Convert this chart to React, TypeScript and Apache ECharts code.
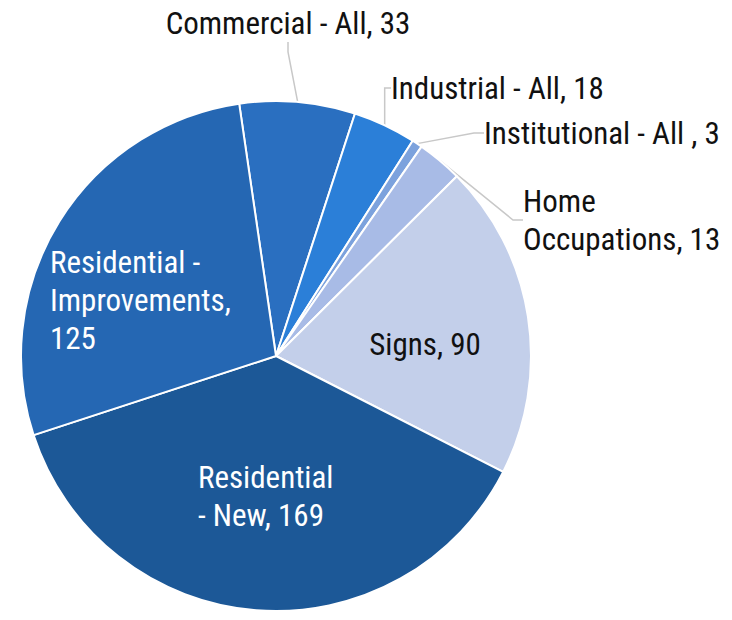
import React, { useEffect, useRef } from "react";
import * as echarts from "echarts";

const categories = [
  "Commercial - All",
  "Industrial - All",
  "Institutional - All",
  "Home Occupations",
  "Signs",
  "Residential - New",
  "Residential - Improvements",
];
const values = [33, 18, 3, 13, 90, 169, 125];
const labelTexts = [
  "Commercial - All, 33",
  "Industrial - All, 18",
  "Institutional - All , 3",
  "Home\nOccupations, 13",
  "Signs, 90",
  "Residential\n- New, 169",
  "Residential -\nImprovements,\n125",
];
const colors = ["#2a6fc0", "#2b7fd8", "#7ca2dd", "#a8bbe6", "#c3cfea", "#1c5897", "#2567b3"];
const insideFlags = [false, false, false, false, true, true, true];
const labelColors = ["#111", "#111", "#111", "#111", "#111", "#fff", "#fff"];

// label placement (style)
const labelPlacement = [
  { x: 288, y: 23, align: "center" },
  { x: 391, y: 88, align: "left" },
  { x: 484, y: 133, align: "left" },
  { x: 523, y: 220, align: "left" },
  { x: 425, y: 344, align: "center" },
  { x: 198, y: 496, align: "left" },
  { x: 50, y: 300, align: "left" },
];

const FONT = "'Liberation Sans Narrow', 'Arial Narrow', 'Roboto Condensed', Roboto, sans-serif";

export default function App() {
  const ref = useRef<HTMLDivElement>(null);
  useEffect(() => {
    if (!ref.current) return;
    const chart = echarts.init(ref.current, null, { renderer: "svg" });
    const data = categories.map((name, i) => ({
      name,
      value: values[i],
      itemStyle: { color: colors[i] },
      label: {
        position: insideFlags[i] ? "inside" : "outside",
        color: labelColors[i],
        formatter: labelTexts[i],
        align: labelPlacement[i].align,
      },
      labelLine: { show: !insideFlags[i] },
    }));
    chart.setOption({
      animation: false,
      backgroundColor: "#ffffff",
      series: [
        {
          type: "pie",
          center: [276, 356],
          radius: 255,
          startAngle: 98.3,
          clockwise: true,
          avoidLabelOverlap: false,
          itemStyle: { borderColor: "#ffffff", borderWidth: 2 },
          label: {
            show: true,
            fontFamily: FONT,
            fontSize: 31,
            lineHeight: 38,
          },
          labelLine: {
            show: true,
            lineStyle: { color: "#c8c8c8", width: 1.5 },
            length: 20,
            length2: 10,
          },
          emphasis: { disabled: true },
          labelLayout: (params: any) => {
            const p = labelPlacement[params.dataIndex];
            return { x: p.x, y: p.y, align: p.align, verticalAlign: "middle" };
          },
          data,
        },
      ],
    });
    return () => chart.dispose();
  }, []);
  return (
    <div
      ref={ref}
      style={{ position: "fixed", left: 0, top: 0, width: 732, height: 620 }}
    />
  );
}
